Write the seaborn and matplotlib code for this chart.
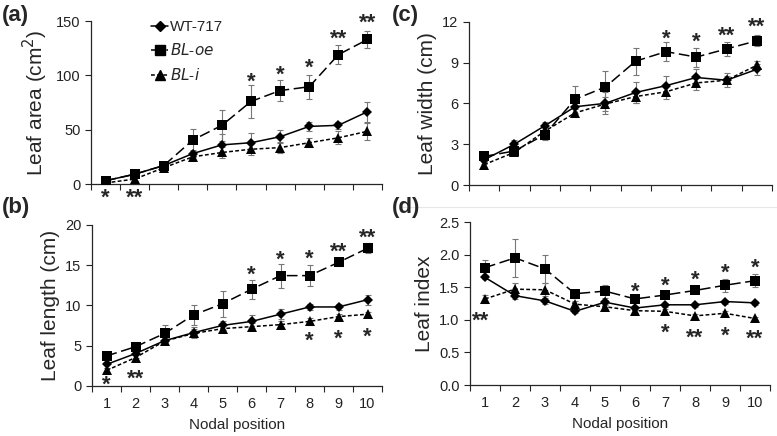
import numpy as np
import pandas as pd
import matplotlib.pyplot as plt
import seaborn as sns
from matplotlib.lines import Line2D
from matplotlib.ticker import FixedLocator
from matplotlib.transforms import offset_copy

# Datos
nodes = list(range(1, 11))
lines_names = ["WT-717", "BL-oe", "BL-i"]

area_wt = [3, 9, 17, 28, 36, 38, 43.5, 53, 54, 66.5]
area_oe = [3, 9, 17, 40.5, 54, 76, 86, 89.5, 119, 133]
area_i = [1, 4.5, 15, 25, 29, 32, 33.5, 38, 42.5, 48.5]
area_wt_se = [1, 1.5, 2, 3, 10, 9, 6, 4, 3, 9]
area_oe_se = [1.5, 2, 3, 10, 14, 15, 10, 11, 9, 8]
area_i_se = [1, 1.5, 2, 3, 5, 5, 5, 4, 6, 8]

length_wt = [2.65, 4.0, 5.6, 6.6, 7.5, 8.0, 8.9, 9.8, 9.8, 10.7]
length_oe = [3.7, 4.85, 6.5, 8.8, 10.2, 12.0, 13.7, 13.7, 15.35, 17.1]
length_i = [1.9, 3.5, 5.55, 6.5, 7.1, 7.35, 7.6, 8.0, 8.6, 8.9]
length_wt_se = [0.5, 0.5, 0.4, 0.7, 0.6, 0.8, 0.6, 0.4, 0.4, 0.6]
length_oe_se = [0.4, 0.6, 1.0, 1.3, 1.6, 1.2, 1.5, 1.3, 0.4, 0.6]
length_i_se = [0.3, 0.4, 0.4, 0.5, 0.4, 0.4, 0.4, 0.4, 0.3, 0.3]

width_wt = [1.85, 3.0, 4.35, 5.75, 6.0, 6.8, 7.3, 7.9, 7.7, 8.5]
width_oe = [2.1, 2.5, 3.7, 6.3, 7.2, 9.1, 9.8, 9.4, 10.0, 10.6]
width_i = [1.5, 2.4, 3.95, 5.3, 5.95, 6.5, 6.85, 7.5, 7.7, 8.8]
width_wt_se = [0.3, 0.3, 0.3, 0.5, 0.8, 0.8, 0.7, 0.6, 0.5, 0.4]
width_oe_se = [0.3, 0.3, 0.4, 1.0, 1.2, 1.0, 0.7, 0.7, 0.5, 0.4]
width_i_se = [0.2, 0.2, 0.3, 0.3, 0.5, 0.5, 0.5, 0.5, 0.3, 0.3]

index_wt = [1.65, 1.37, 1.29, 1.13, 1.27, 1.18, 1.23, 1.23, 1.28, 1.26]
index_oe = [1.80, 1.95, 1.78, 1.40, 1.44, 1.32, 1.38, 1.45, 1.53, 1.60]
index_i = [1.32, 1.47, 1.46, 1.24, 1.20, 1.14, 1.13, 1.06, 1.10, 1.02]
index_wt_se = [0.03, 0.05, 0.04, 0.03, 0.04, 0.03, 0.03, 0.03, 0.03, 0.03]
index_oe_se = [0.12, 0.29, 0.22, 0.06, 0.10, 0.05, 0.05, 0.04, 0.10, 0.10]
index_i_se = [0.06, 0.10, 0.10, 0.05, 0.04, 0.04, 0.04, 0.03, 0.04, 0.03]

# Asteriscos de significancia: (nodo, texto, y)
area_stars = [(1, "*", -8.6), (2, "**", -8.6), (6, "*", 99), (7, "*", 105),
              (8, "*", 111), (9, "**", 138.6), (10, "**", 152.5)]
length_stars = [(1, "*", 0.7), (2, "**", 1.45), (6, "*", 14.4), (7, "*", 16.3),
                (8, "*", 16.35), (9, "**", 17.3), (10, "**", 19.0),
                (8, "*", 6.2), (9, "*", 6.5), (10, "*", 6.7)]
width_stars = [(7, "*", 11.1), (8, "*", 10.9), (9, "**", 11.3), (10, "**", 12.0)]
index_stars = [(0.85, "**", 1.06), (6, "*", 1.50), (7, "*", 1.59), (8, "*", 1.69),
               (9, "*", 1.79), (10, "*", 1.87), (7, "*", 0.87), (8, "**", 0.80),
               (9, "*", 0.83), (10, "**", 0.78)]

sns.set_style("ticks")
plt.rcParams["font.family"] = ["Liberation Sans", "DejaVu Sans"]

fig = plt.figure(figsize=(7.77, 4.36), dpi=100)

markers = {"WT-717": "D", "BL-oe": "s", "BL-i": "^"}
dashes = {"WT-717": "", "BL-oe": (7, 3), "BL-i": (2.5, 1.5)}
palette = {n: "black" for n in lines_names}
msizes = {"WT-717": 5, "BL-oe": 6.5, "BL-i": 6.5}
STAR_SIZE = 16


def panel(rect, series, errs, ylim, yticks, ylabel, stars, letter, letter_pos,
          show_xlabels, yfmt="{:g}"):
    ax = fig.add_axes(rect)
    df = pd.DataFrame({
        "node": nodes * 3,
        "value": series[0] + series[1] + series[2],
        "line": sum([[n] * 10 for n in lines_names], []),
    })
    for name, y, e in zip(lines_names, series, errs):
        ax.errorbar(nodes, y, yerr=e, fmt="none", ecolor="#777777",
                    elinewidth=0.8, capsize=2, capthick=0.8, zorder=1)
    sns.lineplot(data=df, x="node", y="value", hue="line", style="line",
                 markers=markers, dashes=dashes, palette=palette, ax=ax,
                 linewidth=1.1, markersize=6.5, markeredgewidth=0, zorder=3,
                 legend=False)
    for l, n in zip(ax.lines[-3:], lines_names):
        l.set_markersize(msizes[n])
    ax.set_xlim(0.5, 10.5)
    ax.set_ylim(*ylim)
    ax.set_yticks(yticks)
    ax.set_yticklabels([yfmt.format(t) for t in yticks])
    ax.xaxis.set_major_locator(FixedLocator(nodes))
    ax.xaxis.set_minor_locator(FixedLocator(np.arange(0.5, 11, 1)))
    ax.tick_params(axis="x", which="major", length=0, pad=8)
    ax.tick_params(axis="x", which="minor", length=4, width=0.8, direction="out")
    ax.tick_params(axis="y", length=4, width=0.8, direction="out")
    ax.tick_params(labelsize=10.5, colors="#222222")
    if show_xlabels:
        ax.set_xticklabels([str(n) for n in nodes])
        ax.set_xlabel("Nodal position", fontsize=11, labelpad=5)
    else:
        ax.set_xticklabels([])
        ax.set_xlabel("")
    ax.set_ylabel(ylabel, fontsize=15, labelpad=4)
    sns.despine(ax=ax)
    for s in ["left", "bottom"]:
        ax.spines[s].set_linewidth(0.9)
    # el asterisco queda alto en su caja: se baja un poco
    star_tr = offset_copy(ax.transData, fig=fig, x=0, y=-0.24 * STAR_SIZE,
                          units="points")
    for x, t, y in stars:
        ax.text(x, y, t, ha="center", va="center", fontsize=STAR_SIZE,
                fontweight="bold", transform=star_tr, clip_on=False)
    fig.text(letter_pos[0], letter_pos[1], letter, fontsize=16,
             fontweight="bold", ha="left", va="center")
    return ax


ax_a = panel([91 / 777, 1 - 184 / 436, 291 / 777, 163 / 436],
             [area_wt, area_oe, area_i], [area_wt_se, area_oe_se, area_i_se],
             (0, 150), [0, 50, 100, 150], "Leaf area (cm$^2$)", area_stars,
             "(a)", (0.002, 1 - 15 / 436), False)
ax_b = panel([92 / 777, 1 - 385.7 / 436, 290 / 777, 160.7 / 436],
             [length_wt, length_oe, length_i],
             [length_wt_se, length_oe_se, length_i_se],
             (0, 20), [0, 5, 10, 15, 20], "Leaf length (cm)", length_stars,
             "(b)", (0.002, 1 - 207 / 436), True)
ax_c = panel([469 / 777, 1 - 185 / 436, 303 / 777, 163.3 / 436],
             [width_wt, width_oe, width_i], [width_wt_se, width_oe_se, width_i_se],
             (0, 12), [0, 3, 6, 9, 12], "Leaf width (cm)", width_stars,
             "(c)", (392 / 777, 1 - 15 / 436), False)
ax_d = panel([470 / 777, 1 - 385 / 436, 300 / 777, 163 / 436],
             [index_wt, index_oe, index_i], [index_wt_se, index_oe_se, index_i_se],
             (0, 2.5), [0, 0.5, 1.0, 1.5, 2.0, 2.5], "Leaf index", index_stars,
             "(d)", (392 / 777, 1 - 207 / 436), True, yfmt="{:.1f}")

# Leyenda
handles = [Line2D([], [], color="black", marker=markers[n],
                  linestyle="-" if n == "WT-717" else (0, dashes[n]),
                  markersize=msizes[n], linewidth=1.1) for n in lines_names]
labels = ["WT-717", "$\\it{BL}$-$\\it{oe}$", "$\\it{BL}$-$\\it{i}$"]
ax_a.legend(handles, labels, loc="upper left", bbox_to_anchor=(0.16, 1.09),
            frameon=False, fontsize=11, handlelength=1.1, handletextpad=0.15,
            labelspacing=0.55)

# línea separadora tenue
fig.add_artist(Line2D([400 / 777, 1], [1 - 207 / 436, 1 - 207 / 436],
                      color="#e6e6e6", linewidth=0.8))

fig.savefig("out.png", dpi=100)
